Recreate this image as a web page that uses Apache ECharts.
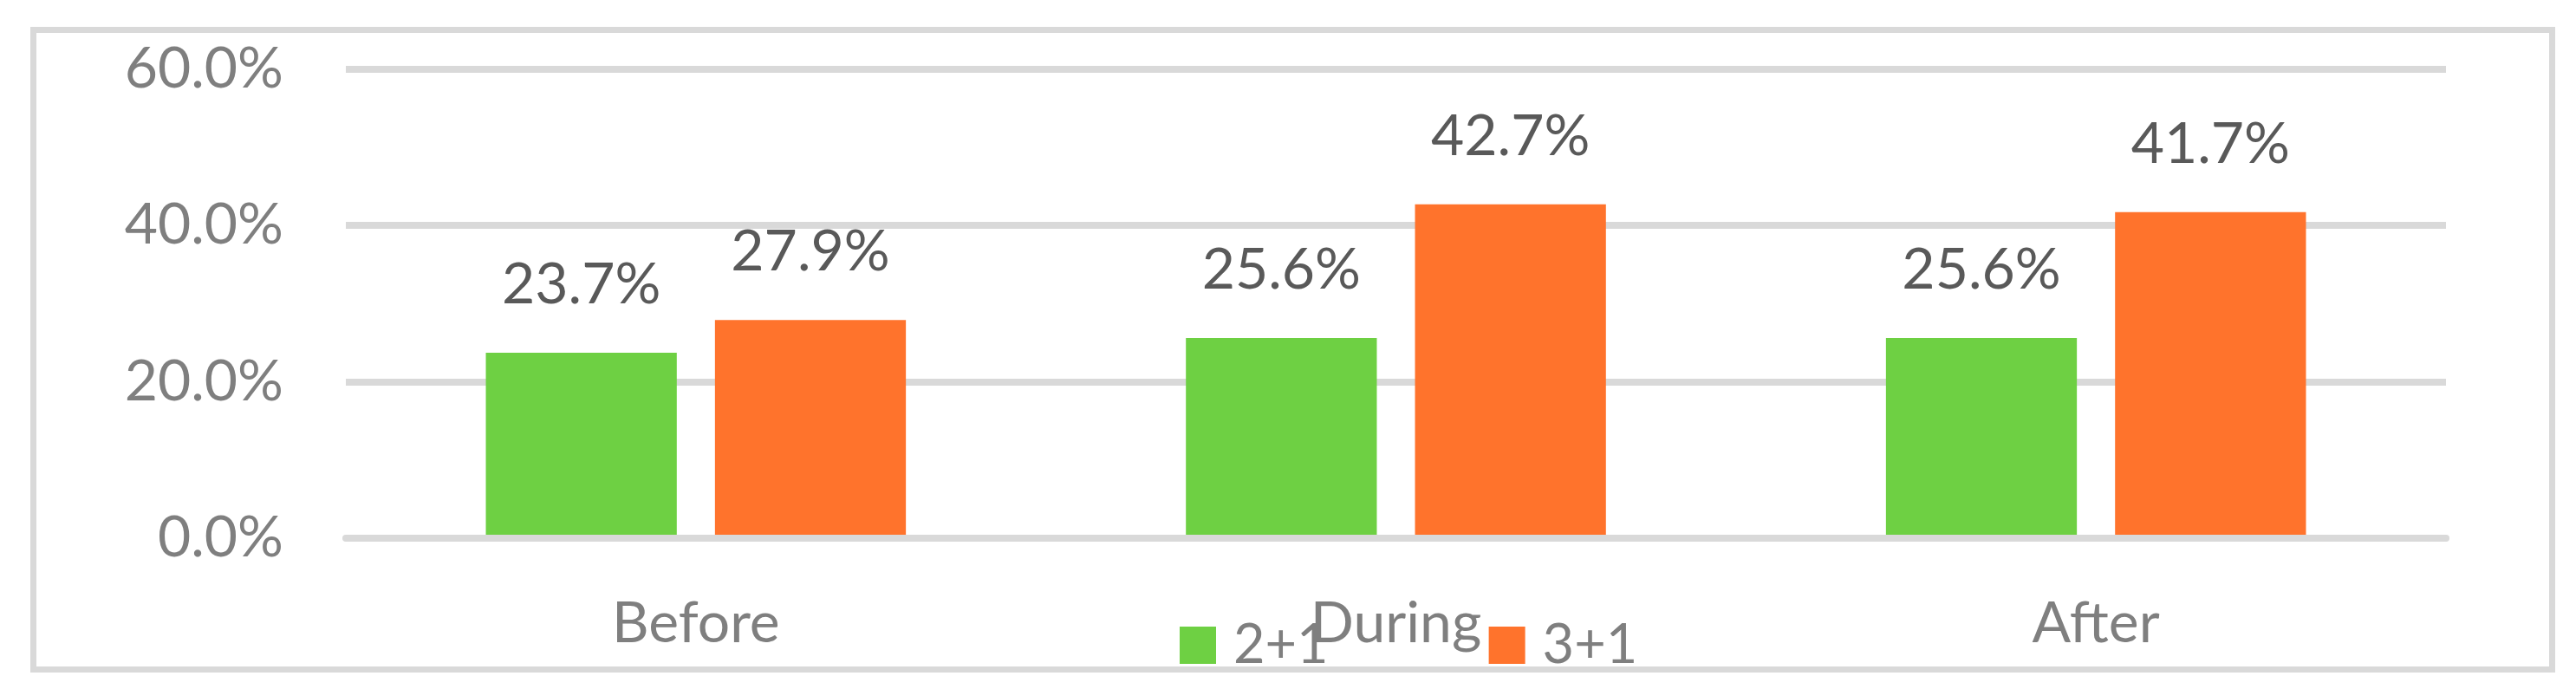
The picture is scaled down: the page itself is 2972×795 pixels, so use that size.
<!DOCTYPE html>
<html>
<head>
<meta charset="utf-8">
<script src="https://cdn.jsdelivr.net/npm/echarts@6/dist/echarts.min.js"></script>
<style>
html,body{margin:0;padding:0;background:#fff;}
#chart{width:2972px;height:795px;}
</style>
</head>
<body>
<div id="chart"></div>
<script>
const categories = ['Before', 'During', 'After'];
const seriesNames = ['2+1', '3+1'];
const values21 = [23.7, 25.6, 25.6];
const values31 = [27.9, 42.7, 41.7];
const yTicks = [0, 20, 40, 60];

const FONT = 'Lato';
const chart = echarts.init(document.getElementById('chart'), null, {renderer: 'canvas'});
const pct = v => Number(v).toFixed(1) + '%';

const labelStyle = {
  show: true,
  position: 'top',
  distance: 45,
  fontFamily: FONT,
  fontSize: 66,
  color: '#595959',
  formatter: p => pct(p.value)
};

chart.setOption({
  animation: false,
  backgroundColor: '#ffffff',
  graphic: [{
    type: 'rect',
    shape: {x: 38.5, y: 34.5, width: 2906, height: 738},
    style: {fill: 'none', stroke: '#d9d9d9', lineWidth: 7},
    z: -1
  }],
  grid: {left: 399, right: 150, top: 80, bottom: 174.5, containLabel: false},
  legend: {
    data: seriesNames,
    left: 1361,
    top: 713,
    padding: 0,
    itemWidth: 42,
    itemHeight: 43,
    itemGap: 185,
    icon: 'rect',
    textStyle: {fontFamily: FONT, fontSize: 63, color: '#7f7f7f', padding: [0, 0, 0, 15]}
  },
  xAxis: {
    type: 'category',
    data: categories,
    z: 3,
    axisLine: {show: true, lineStyle: {color: '#d9d9d9', width: 8}},
    axisTick: {show: false},
    axisLabel: {fontFamily: FONT, fontSize: 66, color: '#7f7f7f', margin: 66}
  },
  yAxis: {
    type: 'value',
    min: yTicks[0],
    max: yTicks[yTicks.length - 1],
    interval: yTicks[1] - yTicks[0],
    axisLine: {show: false},
    axisTick: {show: false},
    splitLine: {lineStyle: {color: '#d9d9d9', width: 8}},
    axisLabel: {fontFamily: FONT, fontSize: 66, color: '#7f7f7f', margin: 72, formatter: v => pct(v)}
  },
  series: [
    {name: seriesNames[0], type: 'bar', data: values21, barGap: '20%', barCategoryGap: '40%',
     itemStyle: {color: '#6ed043'}, label: labelStyle},
    {name: seriesNames[1], type: 'bar', data: values31, barGap: '20%', barCategoryGap: '40%',
     itemStyle: {color: '#ff732c'}, label: labelStyle}
  ]
});
</script>
</body>
</html>
